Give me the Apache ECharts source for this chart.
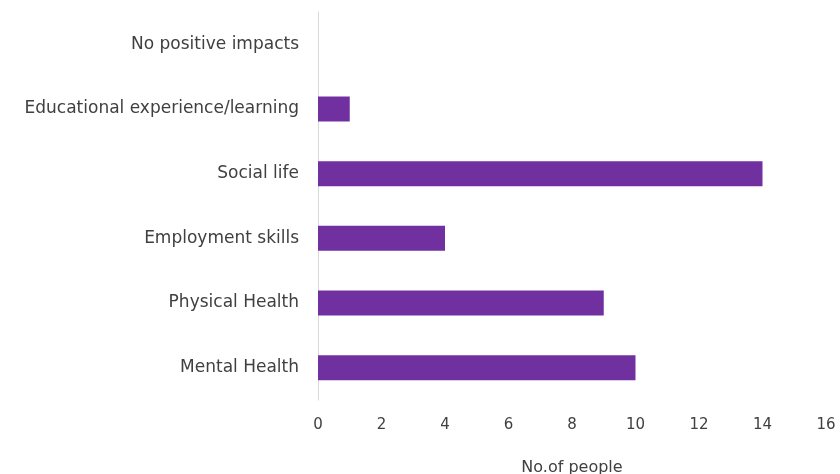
<!DOCTYPE html>
<html>
<head>
<meta charset="utf-8">
<script src="https://cdn.jsdelivr.net/npm/echarts@6/dist/echarts.min.js"></script>
<style>
  html, body { margin: 0; padding: 0; background: #fff; }
  #chart { width: 840px; height: 474px; }
</style>
</head>
<body>
<div id="chart"></div>
<script>
// Positive impacts reported, bottom to top on the category axis
const categories = [
  'Mental Health',
  'Physical Health',
  'Employment skills',
  'Social life',
  'Educational experience/learning',
  'No positive impacts'
];
const peopleCounts = [10, 9, 4, 14, 1, 0];
const xTicks = [0, 2, 4, 6, 8, 10, 12, 14, 16];
const xAxisTitle = 'No.of people';

const chart = echarts.init(document.getElementById('chart'), null, { renderer: 'canvas' });
const textColor = '#404040';
const fontFamily = '"DejaVu Sans", "Open Sans", sans-serif';

chart.setOption({
  animation: false,
  grid: {
    left: 318, right: 14, top: 12, bottom: 74,
    containLabel: false,
    outerBoundsMode: 'none'
  },
  xAxis: {
    type: 'value',
    min: xTicks[0],
    max: xTicks[xTicks.length - 1],
    interval: xTicks[1] - xTicks[0],
    name: xAxisTitle,
    nameLocation: 'middle',
    nameGap: 60,
    nameTextStyle: { color: textColor, fontSize: 16, fontFamily },
    axisLine: { show: false },
    axisTick: { show: false },
    splitLine: { show: false },
    axisLabel: { color: textColor, fontSize: 15, fontFamily, margin: 18 }
  },
  yAxis: {
    type: 'category',
    data: categories,
    axisLine: { show: true, lineStyle: { color: '#d9d9d9', width: 1 } },
    axisTick: { show: false },
    splitLine: { show: false },
    axisLabel: { color: textColor, fontSize: 17, fontFamily, margin: 19 }
  },
  series: [{
    type: 'bar',
    data: peopleCounts,
    barWidth: 25,
    itemStyle: { color: '#7030a0' }
  }]
});
</script>
</body>
</html>
